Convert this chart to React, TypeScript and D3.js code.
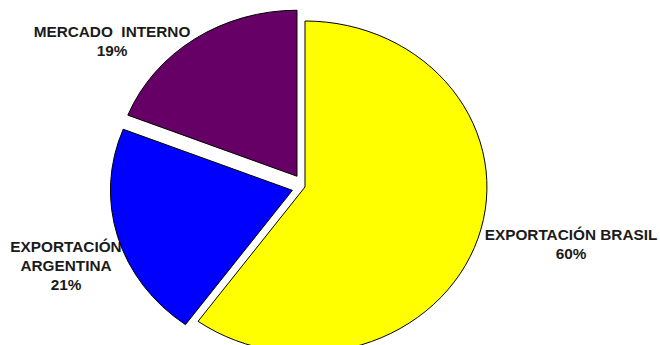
import React from "react";
import * as d3 from "d3";

const categories = ["EXPORTACIÓN BRASIL", "EXPORTACIÓN ARGENTINA", "MERCADO  INTERNO"];
const values = [60, 21, 19];
const labelLines = [["EXPORTACIÓN BRASIL"], ["EXPORTACIÓN", "ARGENTINA"], ["MERCADO  INTERNO"]];
const colors = ["#FFFF00", "#0000FF", "#660066"];
const exploded = [0, 12, 13];
const labelPos = [
  { x: 571, y: 240 },
  { x: 66, y: 252 },
  { x: 112, y: 37 },
];

export default function App() {
  const W = 660, H = 345;
  const cx = 305, cy = 187, r = 166, sx = 1.096;
  const pie = d3.pie<number>().value((d) => d).sort(null);
  const arcs = pie(values);
  const arc = d3.arc<d3.PieArcDatum<number>>().innerRadius(0).outerRadius(r);
  return (
    <svg width={W} height={H} style={{ position: "absolute", left: 0, top: 0, background: "#fff" }}>
      <rect width={W} height={H} fill="#fff" />
      {categories.map((c, i) => {
        const p = labelPos[i];
        const lines = [...labelLines[i], `${values[i]}%`];
        return (
          <g key={c}>
            {lines.map((t, j) => (
              <text
                key={j}
                transform={`translate(${p.x},${p.y + j * 19}) scale(${sx},1)`}
                textAnchor="middle"
                fontFamily="Liberation Sans, Arial, sans-serif"
                fontWeight="bold"
                fontSize={14}
                fill="#1a1a1a"
                style={{ whiteSpace: "pre" }}
              >
                {t}
              </text>
            ))}
          </g>
        );
      })}
      <g transform={`translate(${cx},${cy}) scale(${sx},1)`}>
        {arcs.map((a, i) => {
          const mid = (a.startAngle + a.endAngle) / 2;
          const dx = Math.sin(mid) * exploded[i];
          const dy = -Math.cos(mid) * exploded[i];
          return (
            <path
              key={i}
              d={arc(a) || ""}
              transform={`translate(${dx},${dy})`}
              fill={colors[i]}
              stroke="#000"
              strokeWidth={1}
              vectorEffect="non-scaling-stroke"
              strokeLinejoin="miter"
            />
          );
        })}
      </g>
    </svg>
  );
}
